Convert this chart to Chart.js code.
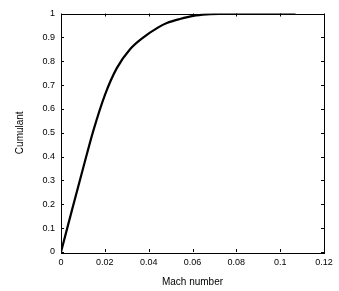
<!DOCTYPE html>
<html>
<head>
<meta charset="utf-8">
<script src="https://cdn.jsdelivr.net/npm/chart.js@4.4.0/dist/chart.umd.min.js"></script>
<style>
html,body{margin:0;padding:0;background:#fff;}
#wrap{width:339px;height:291px;}
</style>
</head>
<body>
<div id="wrap"><canvas id="c" width="339" height="291"></canvas></div>
<script>
const machNumber = [0, 0.0047, 0.0102, 0.0148, 0.0201, 0.0254, 0.0315, 0.0376, 0.0444, 0.0483, 0.0543, 0.0604, 0.0665, 0.075, 0.09, 0.107];
const cumulant   = [0, 0.165, 0.355, 0.51, 0.66, 0.77, 0.85, 0.90, 0.942, 0.96, 0.977, 0.99, 0.996, 0.999, 1.0, 1.0];
const xTicks = [0, 0.02, 0.04, 0.06, 0.08, 0.1, 0.12];
const yTicks = [0, 0.1, 0.2, 0.3, 0.4, 0.5, 0.6, 0.7, 0.8, 0.9, 1];
const xTitle = 'Mach number';
const yTitle = 'Cumulant';

const points = machNumber.map((x, i) => ({x: x, y: cumulant[i]}));

const frame = {
  id: 'frame',
  afterDraw(chart) {
    const {ctx, chartArea: a, scales} = chart;
    ctx.save();
    ctx.strokeStyle = '#000';
    ctx.lineWidth = 1;
    ctx.strokeRect(Math.round(a.left) + 0.5, Math.round(a.top) + 0.5, Math.round(a.right - a.left), Math.round(a.bottom - a.top));
    const L = 3;
    ctx.beginPath();
    xTicks.forEach(v => {
      const px = Math.round(scales.x.getPixelForValue(v)) + 0.5;
      ctx.moveTo(px, a.bottom); ctx.lineTo(px, a.bottom - L);
      ctx.moveTo(px, a.top); ctx.lineTo(px, a.top + L);
    });
    yTicks.forEach(v => {
      const py = Math.round(scales.y.getPixelForValue(v)) + 0.5;
      ctx.moveTo(a.left, py); ctx.lineTo(a.left + L, py);
      ctx.moveTo(a.right, py); ctx.lineTo(a.right - L, py);
    });
    ctx.stroke();
    ctx.restore();
  }
};

new Chart(document.getElementById('c'), {
  type: 'line',
  data: {
    datasets: [{
      data: points,
      borderColor: '#000',
      borderWidth: 2.2,
      pointRadius: 0,
      fill: false,
      cubicInterpolationMode: 'monotone'
    }]
  },
  options: {
    responsive: false,
    animation: false,
    events: [],
    layout: {padding: {left: 0, right: 15, top: 13.5, bottom: 0}},
    plugins: {legend: {display: false}, tooltip: {enabled: false}},
    scales: {
      x: {
        type: 'linear', min: 0, max: 0.12,
        afterBuildTicks: s => { s.ticks = xTicks.map(v => ({value: v})); },
        ticks: {color: '#000', font: {family: 'Liberation Sans', size: 9}, padding: 5, maxRotation: 0,
          callback: v => String(+v.toFixed(2))},
        grid: {display: false, drawTicks: false},
        border: {display: false},
        title: {display: true, text: xTitle, color: '#000', font: {family: 'Liberation Sans', size: 10}, padding: {top: 0, bottom: 3}},
        afterFit: s => { s.height = 39; }
      },
      y: {
        type: 'linear', min: 0, max: 1,
        afterBuildTicks: s => { s.ticks = yTicks.map(v => ({value: v})); },
        ticks: {color: '#000', font: {family: 'Liberation Sans', size: 9}, padding: 6,
          callback: v => String(+v.toFixed(1))},
        grid: {display: false, drawTicks: false},
        border: {display: false},
        title: {display: true, text: yTitle, color: '#000', font: {family: 'Liberation Sans', size: 10}, padding: {top: 14, bottom: 0}},
        afterFit: s => { s.width = 61; }
      }
    }
  },
  plugins: [frame]
});
</script>
</body>
</html>
